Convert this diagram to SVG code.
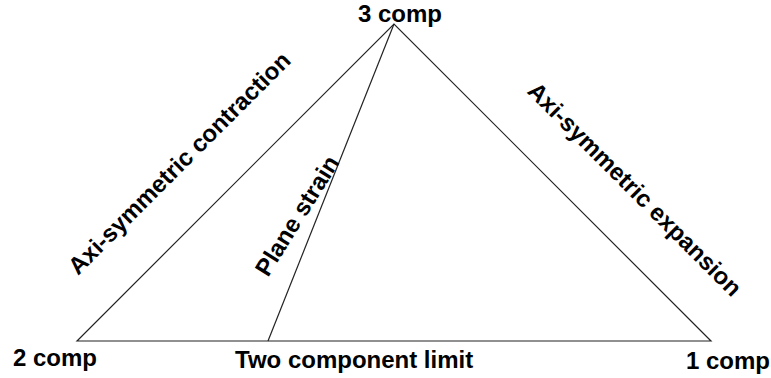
<svg xmlns="http://www.w3.org/2000/svg" width="771" height="378" viewBox="0 0 771 378">
<style>
.lbl{font-family:"Liberation Sans",Arial,sans-serif;font-weight:bold;font-size:24px;fill:#000}
.edge{stroke:#222;stroke-width:1.2;fill:none}
</style>
<rect width="771" height="378" fill="#fff"/>
<g id="connectors">
<path class="edge" d="M77,341 L394,24 L711,341 Z"/>
<line class="edge" x1="394" y1="24" x2="268" y2="341"/>
</g>
<g id="node-3comp"><text class="lbl" x="400" y="22" text-anchor="middle">3 comp</text></g>
<g id="node-2comp"><text class="lbl" x="13" y="366">2 comp</text></g>
<g id="node-1comp"><text class="lbl" x="686" y="369">1 comp</text></g>
<g id="label-two"><text class="lbl" x="235" y="368">Two component limit</text></g>
<g id="label-contraction"><text class="lbl" text-anchor="middle" transform="translate(185,169) rotate(-45)">Axi-symmetric contraction</text></g>
<g id="label-expansion"><text class="lbl" text-anchor="middle" transform="translate(629,195) rotate(45)">Axi-symmetric expansion</text></g>
<g id="label-plane"><text class="lbl" text-anchor="middle" transform="translate(304,220) rotate(-58)">Plane strain</text></g>
</svg>
